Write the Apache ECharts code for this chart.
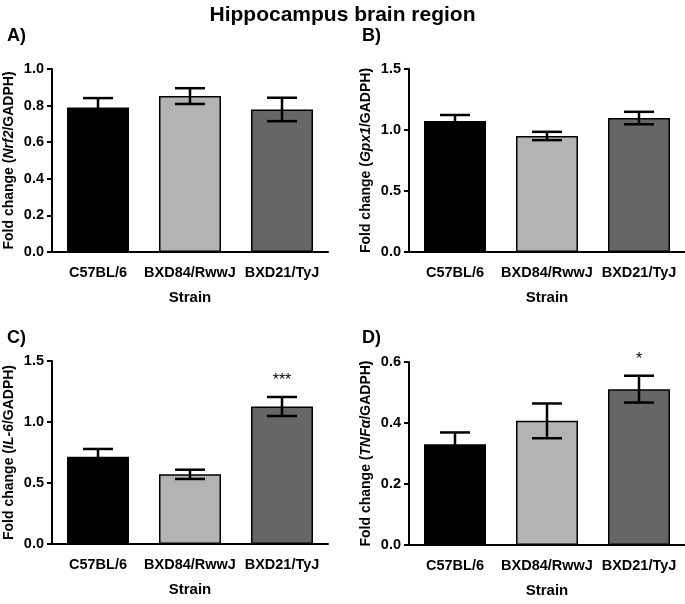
<!DOCTYPE html>
<html>
<head>
<meta charset="utf-8">
<script src="https://cdn.jsdelivr.net/npm/echarts@6/dist/echarts.min.js"></script>
<style>
html,body{margin:0;padding:0;background:#fff;}
#c{width:685px;height:604px;}
</style>
</head>
<body>
<div id="c"></div>
<script>
var categories = ['C57BL/6', 'BXD84/RwwJ', 'BXD21/TyJ'];
var barColors = ['#000000', '#b3b3b3', '#666666'];

// Panel A: Nrf2
var nrf2Mean = [0.789, 0.852, 0.779];
var nrf2Err  = [0.052, 0.043, 0.064];
var nrf2Sig  = ['', '', ''];
// Panel B: Gpx1
var gpx1Mean = [1.074, 0.951, 1.098];
var gpx1Err  = [0.049, 0.034, 0.051];
var gpx1Sig  = ['', '', ''];
// Panel C: IL-6
var il6Mean = [0.716, 0.571, 1.127];
var il6Err  = [0.063, 0.038, 0.078];
var il6Sig  = ['', '', '***'];
// Panel D: TNFa
var tnfMean = [0.330, 0.407, 0.511];
var tnfErr  = [0.039, 0.057, 0.044];
var tnfSig  = ['', '', '*'];

var yMax = [1.0, 1.5, 1.5, 0.6];
var yInterval = [0.2, 0.5, 0.5, 0.2];
var geneNames = ['Nrf2', 'Gpx1', 'IL-6', 'TNF\u03b1'];
var panelLabels = ['A)', 'B)', 'C)', 'D)'];

var panels = [
  {mean: nrf2Mean, err: nrf2Err, sig: nrf2Sig},
  {mean: gpx1Mean, err: gpx1Err, sig: gpx1Sig},
  {mean: il6Mean, err: il6Err, sig: il6Sig},
  {mean: tnfMean, err: tnfErr, sig: tnfSig}
];

var FONT = '"Liberation Sans", Arial, sans-serif';
var gridPos = [
  {left: 52, top: 69, width: 276, height: 183},
  {left: 409, top: 69, width: 276, height: 183},
  {left: 52, top: 361, width: 276, height: 183},
  {left: 409, top: 362, width: 276, height: 183}
];
var labelPos = [
  {left: 2, top: 22},
  {left: 357, top: 22},
  {left: 2, top: 324},
  {left: 357, top: 324}
];

var grids = [], xAxes = [], yAxes = [], series = [], titles = [];
titles.push({
  text: 'Hippocampus brain region', left: 'center', top: 0,
  textStyle: {fontFamily: FONT, fontSize: 21, fontWeight: 'bold', color: '#000'}
});
panels.forEach(function (p, k) {
  grids.push(gridPos[k]);
  titles.push({
    text: panelLabels[k], left: labelPos[k].left, top: labelPos[k].top,
    textStyle: {fontFamily: FONT, fontSize: 18, fontWeight: 'bold', color: '#000'}
  });
  xAxes.push({
    type: 'category', gridIndex: k, data: categories,
    name: 'Strain', nameLocation: 'middle', nameGap: 38,
    nameTextStyle: {fontFamily: FONT, fontSize: 15, fontWeight: 'bold', color: '#000'},
    axisLine: {lineStyle: {color: '#000', width: 2}},
    axisTick: {alignWithLabel: true, length: 5, lineStyle: {color: '#000', width: 2}},
    axisLabel: {interval: 0, fontFamily: FONT, fontSize: 14.5, fontWeight: 'bold', color: '#000', margin: 13}
  });
  yAxes.push({
    type: 'value', gridIndex: k, min: 0, max: yMax[k], interval: yInterval[k],
    name: '{n|Fold change (}{i|' + geneNames[k] + '}{n|/GADPH)}',
    nameLocation: 'middle', nameGap: 36, nameRotate: 90,
    nameTextStyle: {
      rich: {
        n: {fontFamily: FONT, fontSize: 14, fontWeight: 'bold', color: '#000'},
        i: {fontFamily: FONT, fontSize: 14, fontWeight: 'bold', fontStyle: 'italic', color: '#000'}
      }
    },
    splitLine: {show: false},
    axisLine: {show: true, lineStyle: {color: '#000', width: 2}},
    axisTick: {show: true, length: 5, lineStyle: {color: '#000', width: 2}},
    axisLabel: {fontFamily: FONT, fontSize: 14.5, fontWeight: 'bold', color: '#000', margin: 8,
      formatter: function (v) { return v.toFixed(1); }}
  });
  series.push({
    type: 'bar', xAxisIndex: k, yAxisIndex: k, barWidth: 62,
    data: p.mean.map(function (v, i) {
      return {value: v, itemStyle: {color: barColors[i], borderColor: '#000', borderWidth: 1.5}};
    }),
    animation: false
  });
  series.push({
    type: 'custom', xAxisIndex: k, yAxisIndex: k, z: 10, animation: false,
    data: p.mean.map(function (v, i) { return [i, v, p.err[i]]; }),
    renderItem: function (params, api) {
      var i = api.value(0), m = api.value(1), e = api.value(2);
      var s = p.sig[params.dataIndex];
      var top = api.coord([i, m + e]);
      var bot = api.coord([i, m - e]);
      var hw = 15;
      var st = {stroke: '#000', lineWidth: 2.5, fill: null};
      var ch = [
        {type: 'line', shape: {x1: top[0], y1: top[1], x2: bot[0], y2: bot[1]}, style: st},
        {type: 'line', shape: {x1: top[0] - hw, y1: top[1], x2: top[0] + hw, y2: top[1]}, style: st},
        {type: 'line', shape: {x1: bot[0] - hw, y1: bot[1], x2: bot[0] + hw, y2: bot[1]}, style: st}
      ];
      if (s) {
        ch.push({type: 'text', style: {text: s, x: top[0], y: top[1] - 8, align: 'center',
          verticalAlign: 'bottom', fontFamily: FONT, fontSize: 16, fill: '#000'}});
      }
      return {type: 'group', children: ch};
    }
  });
});

var chart = echarts.init(document.getElementById('c'), null, {renderer: 'canvas'});
chart.setOption({
  backgroundColor: '#fff',
  animation: false,
  title: titles,
  grid: grids,
  xAxis: xAxes,
  yAxis: yAxes,
  series: series
});
</script>
</body>
</html>
